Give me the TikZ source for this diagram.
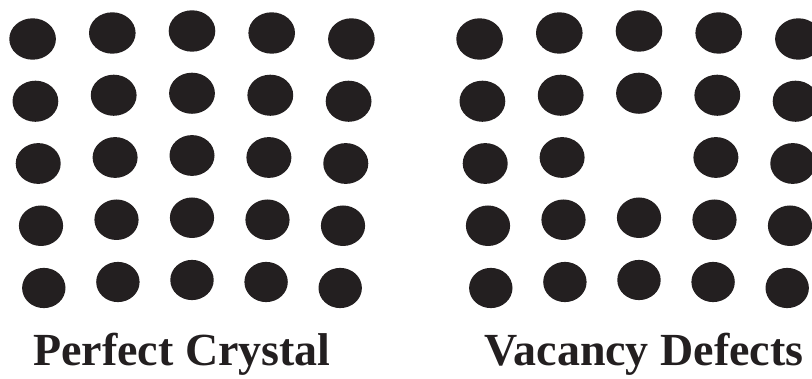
\documentclass[tikz,border=0pt]{standalone}
\usepackage{fontspec}
\setmainfont{Liberation Serif}
\usepackage{tikz}
\definecolor{atomblack}{RGB}{35,31,32}

\begin{document}
\begin{tikzpicture}[
  x=0.025cm, y=-0.025cm,
  atom/.style={fill=atomblack},
  caption/.style={font=\fontsize{32.7}{36}\selectfont\bfseries, text=atomblack, anchor=base, inner sep=0pt}
]
\useasboundingbox (0,0) rectangle (812,379);
\clip (0,0) rectangle (812,379);

% two lattices, the second one with a missing atom in the middle
\foreach \g/\dx in {0/0, 1/447} {
  \foreach \r in {0,...,4} {
    \foreach \c in {-2,...,2} {
      \pgfmathtruncatemacro\isgap{and(\g==1, and(\r==2, \c==0))}
      \pgfmathsetmacro\ax{192 + \dx + \c*(79.7 - 1.4*\r)}
      \pgfmathsetmacro\ay{31 + 62.25*\r + 2*\c*\c}
      \pgfmathsetmacro\rx{23.3 - 0.4*\r}
      \pgfmathsetmacro\ry{20.7 - 0.15*\r}
      \ifnum\isgap=0
        \fill[atom] (\ax,\ay) ellipse [x radius=\rx, y radius=\ry];
      \fi
    }
  }
}

\node[caption] (perfect) at (182,366) {Perfect Crystal};
\node[caption] (vacancy) at (644,366) {Vacancy Defects};
\end{tikzpicture}
\end{document}
